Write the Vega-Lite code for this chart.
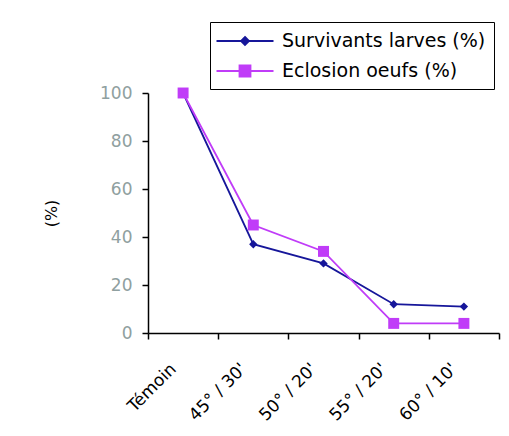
{
  "$schema": "https://vega.github.io/schema/vega-lite/v6.json",
  "width": 351,
  "height": 240,
  "autosize": {"type": "none"},
  "padding": {"left": 148, "top": 93, "right": 10, "bottom": 103},
  "background": "white",
  "config": {"view": {"stroke": null}, "font": "Liberation Sans"},
  "data": {"values": [
    {"t": "Témoin", "s": "Survivants larves (%)", "v": 100},
    {"t": "45° / 30'", "s": "Survivants larves (%)", "v": 37},
    {"t": "50° / 20'", "s": "Survivants larves (%)", "v": 29},
    {"t": "55° / 20'", "s": "Survivants larves (%)", "v": 12},
    {"t": "60° / 10'", "s": "Survivants larves (%)", "v": 11},
    {"t": "Témoin", "s": "Eclosion oeufs (%)", "v": 100},
    {"t": "45° / 30'", "s": "Eclosion oeufs (%)", "v": 45},
    {"t": "50° / 20'", "s": "Eclosion oeufs (%)", "v": 34},
    {"t": "55° / 20'", "s": "Eclosion oeufs (%)", "v": 4},
    {"t": "60° / 10'", "s": "Eclosion oeufs (%)", "v": 4}
  ]},
  "encoding": {
    "x": {"field": "t", "type": "nominal", "sort": null,
      "scale": {"type": "band", "paddingInner": 0, "paddingOuter": 0},
      "axis": {"title": null, "labelAngle": -45, "labelAlign": "right", "labelBaseline": "middle", "labelFont": "DejaVu Sans", "labelFontSize": 17, "labelColor": "black", "labelPadding": 27, "labelOffset": -10, "tickBand": "extent", "tickColor": "black", "domainColor": "black", "domainWidth": 1.5, "tickWidth": 1.5, "tickSize": 6}},
    "y": {"field": "v", "type": "quantitative",
      "scale": {"domain": [0, 100]},
      "axis": {"title": "(%)", "titleFont": "DejaVu Sans", "titleFontSize": 16, "titleFontWeight": "normal", "titlePadding": 40, "values": [0, 20, 40, 60, 80, 100], "grid": false, "labelColor": "#8fa0a0", "labelFont": "DejaVu Sans", "labelFontSize": 17, "labelPadding": 10, "tickColor": "black", "domainColor": "black", "domainWidth": 1.5, "tickWidth": 1.5, "tickSize": 6}}
  },
  "layer": [
    {"mark": {"type": "line", "strokeWidth": 1.8},
      "encoding": {"color": {"field": "s", "type": "nominal",
        "scale": {"domain": ["Survivants larves (%)", "Eclosion oeufs (%)"], "range": ["#16169a", "#c03cf8"]},
        "legend": {"title": null, "orient": "none", "legendX": 62, "legendY": -71, "direction": "vertical",
          "strokeColor": "black", "padding": 8, "labelFont": "DejaVu Sans", "labelFontSize": 19, "labelColor": "black", "labelLimit": 300,
          "symbolSize": 400, "symbolStrokeWidth": 1.8, "symbolOffset": 16, "labelOffset": 26, "rowPadding": 9,
          "encode": {"symbols": {"update": {
            "shape": {"signal": "datum.value === 'Survivants larves (%)' ? 'M-2.85,0H2.85M0,-0.4L0.4,0L0,0.4L-0.4,0Z' : 'M-2.85,0H2.85M-0.55,-0.55H0.55V0.55H-0.55Z'"},
            "fill": {"signal": "datum.value === 'Survivants larves (%)' ? '#16169a' : '#c03cf8'"},
            "stroke": {"signal": "datum.value === 'Survivants larves (%)' ? '#16169a' : '#c03cf8'"},
            "strokeWidth": {"value": 1.8},
            "fillOpacity": {"value": 1},
            "strokeOpacity": {"value": 1}
          }}}}}}},
    {"transform": [{"filter": "datum.s === 'Survivants larves (%)'"}],
      "mark": {"type": "point", "filled": true, "opacity": 1, "shape": "diamond", "size": 70, "color": "#16169a"}},
    {"transform": [{"filter": "datum.s === 'Eclosion oeufs (%)'"}],
      "mark": {"type": "point", "filled": true, "opacity": 1, "shape": "square", "size": 120, "color": "#c03cf8"}}
  ]
}
